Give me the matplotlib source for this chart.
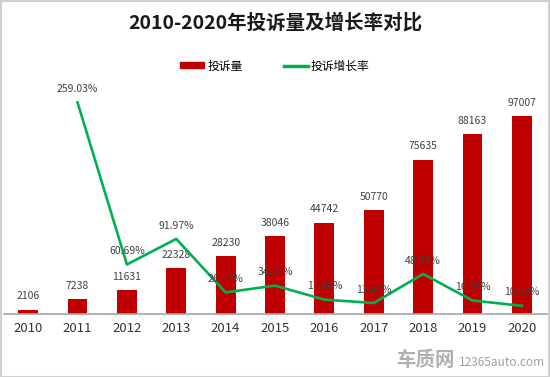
import numpy as np
import matplotlib
matplotlib.use("Agg")
import matplotlib.pyplot as plt
from matplotlib.patches import Rectangle
from matplotlib.lines import Line2D
from matplotlib.patches import Patch

plt.rcParams['font.family'] = ['Noto Sans CJK SC', 'DejaVu Sans']

years = ['2010', '2011', '2012', '2013', '2014', '2015', '2016', '2017', '2018', '2019', '2020']
complaints = [2106, 7238, 11631, 22328, 28230, 38046, 44742, 50770, 75635, 88163, 97007]
growth_years = years[1:]
growth = [259.03, 60.69, 91.97, 26.43, 34.77, 17.60, 13.47, 48.98, 16.56, 10.03]

bar_color = '#C00000'
line_color = '#00B050'
text_color = '#404040'

fig = plt.figure(figsize=(5.5, 3.77), dpi=100)
ax = fig.add_axes([3.5/550, 63/377, 543/550, 245/377])
ax2 = ax.twinx()

x = np.arange(len(years))
ax.bar(x, complaints, width=0.4, color=bar_color, zorder=2)
ax.set_ylim(0, 120000)
ax.set_xlim(-0.5, len(years) - 0.5)

# bar value labels
for xi, v in zip(x, complaints):
    ax.annotate(str(v), (xi, v), xytext=(0, 6), textcoords='offset points',
                ha='center', va='bottom', fontsize=7.5, color=text_color)

# growth rate line on second axis
gx = x[1:]
ax2.plot(gx, growth, color=line_color, lw=1.9, zorder=3)
ax2.set_ylim(0, 300)
for xi, v in zip(gx, growth):
    ax2.annotate('%.2f%%' % v, (xi, v), xytext=(0, 6), textcoords='offset points',
                 ha='center', va='bottom', fontsize=7.5, color=text_color)

for a in (ax, ax2):
    for s in ['top', 'left', 'right']:
        a.spines[s].set_visible(False)
    a.set_yticks([])
ax2.spines['bottom'].set_visible(False)
ax.spines['bottom'].set_color('#a6a6a6')
ax.spines['bottom'].set_linewidth(1.2)
ax.set_xticks(x)
ax.set_xticklabels(years, fontsize=9.5, color='#333333')
ax.tick_params(axis='x', length=0, pad=6)

fig.text(0.5, 1 - 23/377, '2010-2020年投诉量及增长率对比', ha='center', va='center',
         fontsize=14, fontweight='bold', color='#1a1a1a')

handles = [Patch(color=bar_color, label='投诉量'),
           Line2D([0], [0], color=line_color, lw=2.5, label='投诉增长率')]
fig.legend(handles=handles, loc='center', bbox_to_anchor=(0.5, 1 - 66/377), ncol=2,
           frameon=False, fontsize=8.5, handlelength=2.0, handleheight=0.45,
           columnspacing=3.5, handletextpad=0.3)

# watermark
fig.text(455/550, 1 - 360/377, '车质网', ha='right', va='center', fontsize=14,
         fontweight='bold', color='#b0b0b0')
fig.text(459/550, 1 - 362/377, '12365auto.com', ha='left', va='center', fontsize=8.5,
         color='#a0a0a0')

fig.patches.append(Rectangle((0.001, 0.001), 0.997, 0.997, transform=fig.transFigure,
                             fill=False, edgecolor='#d0d0d0', lw=1.5))

fig.savefig('out.png', dpi=100)
